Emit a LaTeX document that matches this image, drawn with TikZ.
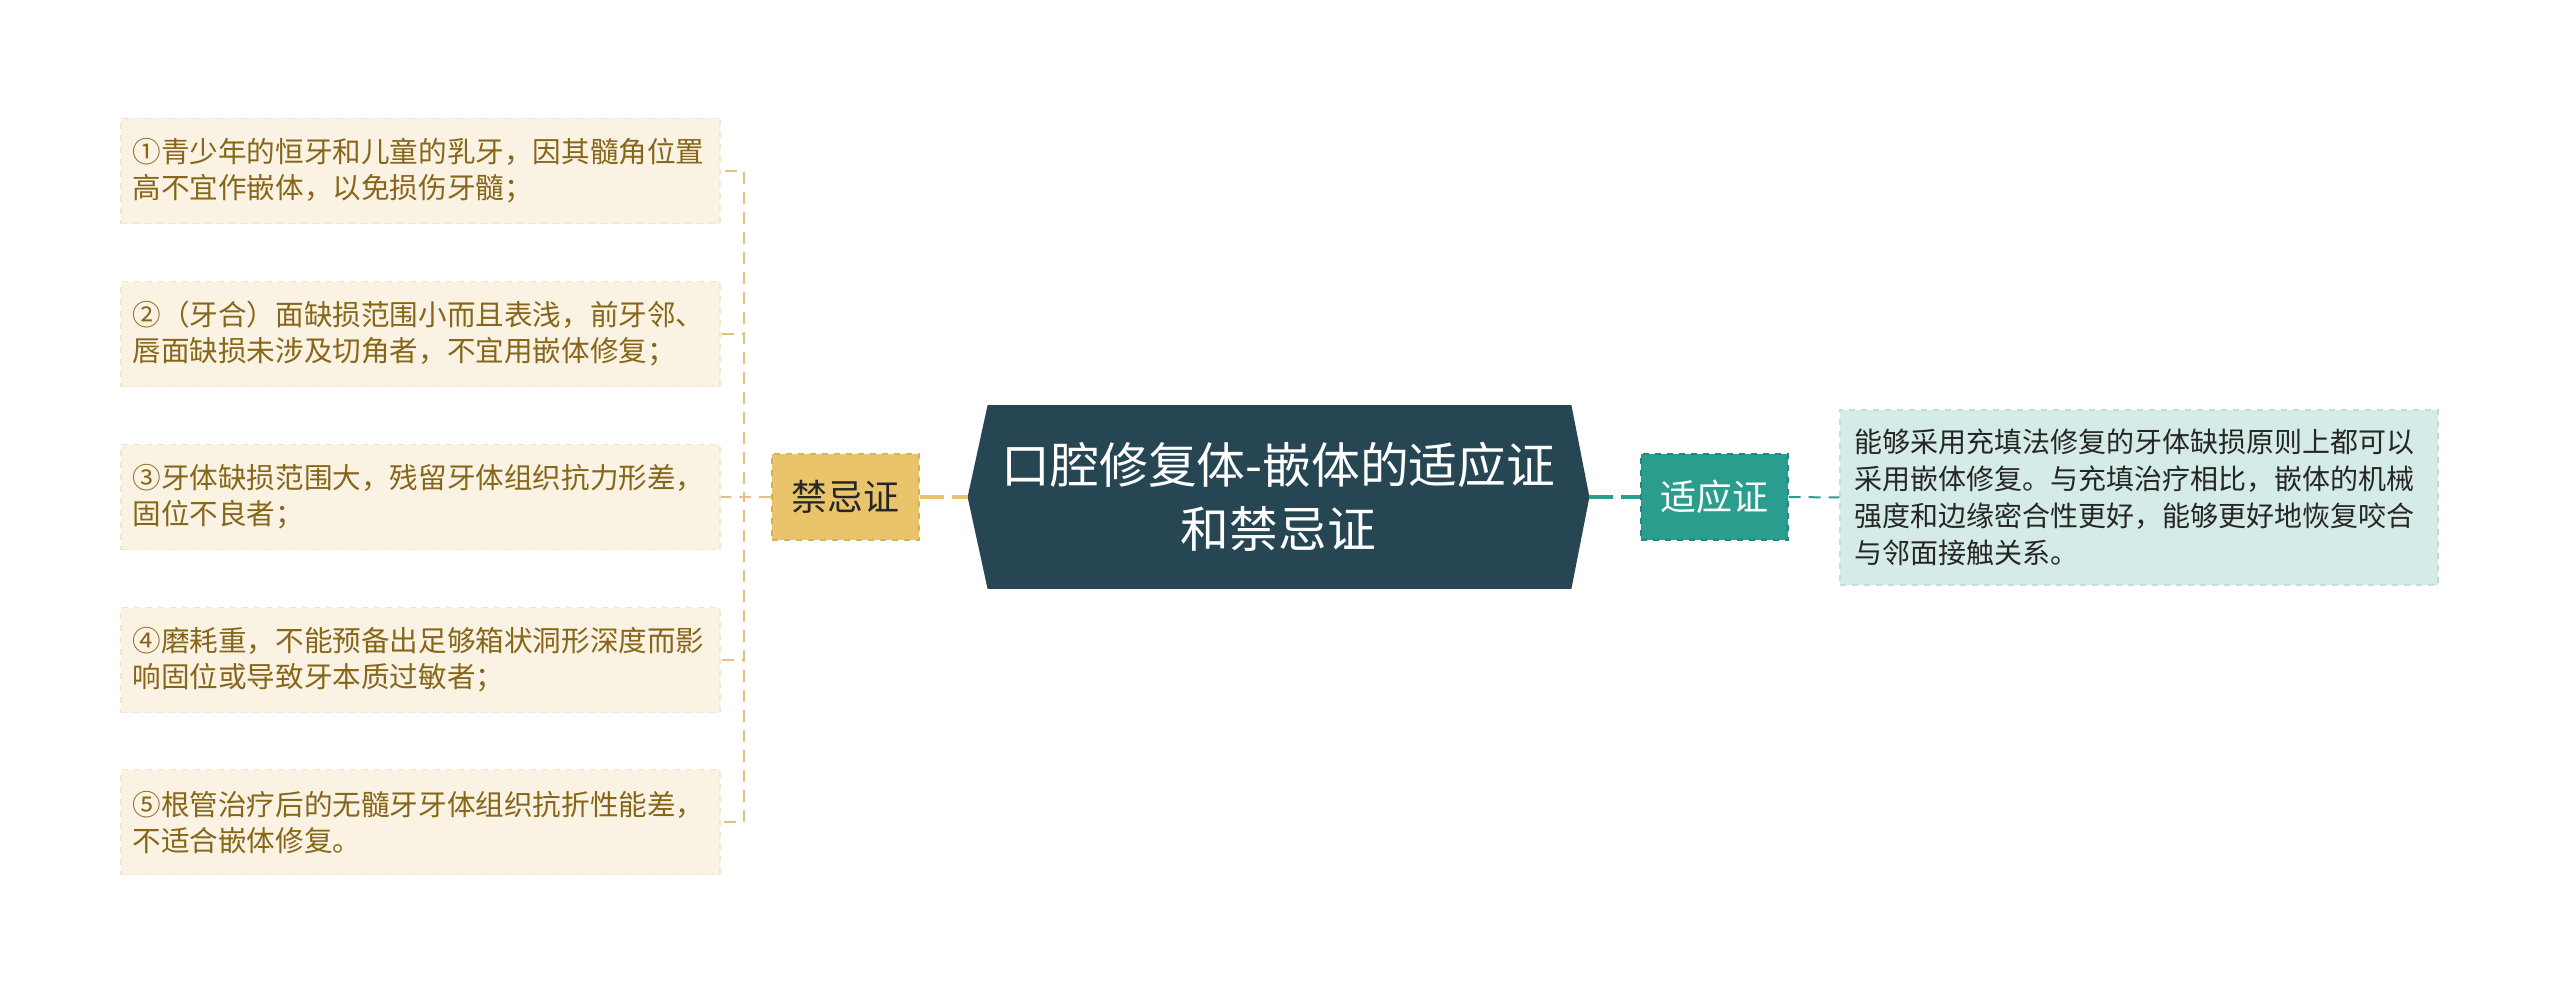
\documentclass[tikz,border=0pt]{standalone}
\usepackage{fontspec}
\setmainfont{Noto Sans CJK SC}
\usetikzlibrary{calc,backgrounds}
\definecolor{cdark}{HTML}{264653}
\definecolor{cteal}{HTML}{2A9D8F}
\definecolor{cgold}{HTML}{E9C46A}
\definecolor{cgoldline}{HTML}{E2C27C}
\definecolor{cgoldborder}{HTML}{D8B25A}
\definecolor{ccream}{HTML}{FAF3E3}
\definecolor{ccreamborder}{HTML}{F1E6CB}
\definecolor{cbrown}{HTML}{87661A}
\definecolor{clteal}{HTML}{D5EBE8}
\definecolor{cltealborder}{HTML}{BFDDD9}
\definecolor{ctealborder}{HTML}{23887C}
\begin{document}
\begin{tikzpicture}[x=0.5pt,y=-0.5pt,
  leafbox/.style={rectangle, fill=ccream, draw=ccreamborder, dashed, line width=0.6pt,
    minimum width=299.5pt, minimum height=52.5pt, inner xsep=5.75pt, inner ysep=4pt,
    text width=288pt, align=left, text=cbrown, font={\fontsize{14.3pt}{18pt}\selectfont}},
  rightbox/.style={rectangle, fill=clteal, draw=cltealborder, dashed, line width=0.6pt,
    minimum width=299pt, minimum height=87.5pt, inner xsep=7pt, inner ysep=4pt,
    text width=285pt, align=left, text=black!85, font={\fontsize{14pt}{18.5pt}\selectfont}},
  kbox/.style={rectangle, fill=cgold, draw=cgoldborder, dashed, line width=0.7pt,
    minimum width=73.5pt, minimum height=43pt, text=black!85, font={\fontsize{18pt}{22pt}\selectfont}},
  sbox/.style={rectangle, fill=cteal, draw=ctealborder, dashed, line width=0.7pt,
    minimum width=73.5pt, minimum height=43pt, text=white, font={\fontsize{18pt}{22pt}\selectfont}},
  centerbox/.style={rectangle, minimum width=310.5pt, minimum height=91.5pt, align=center,
    text=white, font={\fontsize{24.4pt}{32pt}\selectfont}},
  goldthin/.style={draw=cgoldline, line width=1pt, dash pattern=on 6pt off 4pt},
  goldthick/.style={draw=cgold, line width=1.6pt, dash pattern=on 12pt off 4pt},
  tealthick/.style={draw=cteal, line width=1.6pt, dash pattern=on 12pt off 4pt},
  tealthin/.style={draw=cteal, line width=1pt, dash pattern=on 6pt off 4pt}
]
\useasboundingbox (0,0) rectangle (2560,995);

% center node
\node[centerbox] (c) at (1278.5,497) {口腔修复体-嵌体的适应证\\和禁忌证};
\begin{scope}[on background layer]
\fill[white] (0,0) rectangle (2560,995);
\fill[cdark] (c.west) -- ([xshift=10pt]c.north west) -- ([xshift=-9pt]c.north east)
  -- (c.east) -- ([xshift=-9pt]c.south east) -- ([xshift=10pt]c.south west) -- cycle;
\end{scope}

% first level
\node[kbox] (k) at (845.5,497) {禁忌证};
\node[sbox] (s) at (1714.5,497) {适应证};

% left leaves
\node[leafbox] (b1) at (420.5,171) {①青少年的恒牙和儿童的乳牙，因其髓角位置\\高不宜作嵌体，以免损伤牙髓；};
\node[leafbox] (b2) at (420.5,334) {②（牙合）面缺损范围小而且表浅，前牙邻、\\唇面缺损未涉及切角者，不宜用嵌体修复；};
\node[leafbox] (b3) at (420.5,497) {③牙体缺损范围大，残留牙体组织抗力形差，\\固位不良者；};
\node[leafbox] (b4) at (420.5,660) {④磨耗重，不能预备出足够箱状洞形深度而影\\响固位或导致牙本质过敏者；};
\node[leafbox] (b5) at (420.5,822) {⑤根管治疗后的无髓牙牙体组织抗折性能差，\\不适合嵌体修复。};

% right leaf
\node[rightbox] (r) at (2139,497.5) {能够采用充填法修复的牙体缺损原则上都可以\\采用嵌体修复。与充填治疗相比，嵌体的机械\\强度和边缘密合性更好，能够更好地恢复咬合\\与邻面接触关系。};

% connectors
\draw[goldthick] (k.east) -- (c.west);
\draw[tealthick] (c.east) -- (s.west);
\draw[tealthin] (s.east) -- (r.west);
\foreach \b in {b1,b2,b3,b4,b5}{
  \draw[goldthin] (k.west) -- ++(-27,0) |- (\b.east);
}
\end{tikzpicture}
\end{document}
